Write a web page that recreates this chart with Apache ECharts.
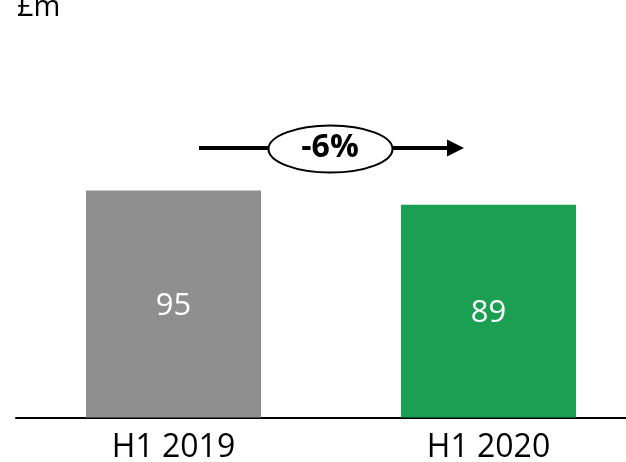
<!DOCTYPE html>
<html>
<head>
<meta charset="utf-8">
<style>
  html, body { margin: 0; padding: 0; background: #fff; }
  #chart { width: 626px; height: 462px; }
</style>
<script src="https://cdn.jsdelivr.net/npm/echarts@6/dist/echarts.min.js"></script>
</head>
<body>
<div id="chart"></div>
<script>
// Half-year revenue, £m
const categories = ['H1 2019', 'H1 2020'];
const values = [95, 89];
const barColors = ['#8F8F8F', '#1A9F53'];
const unitLabel = '£m';

// Period-on-period change shown in the callout
const changePct = Math.round((values[1] / values[0] - 1) * 100);
const changeText = (changePct > 0 ? '+' : '') + changePct + '%';

const FONT = '"Open Sans", "Noto Sans", sans-serif';

const chart = echarts.init(document.getElementById('chart'));

chart.setOption({
  animation: false,
  // the plot runs past the right edge, so the second category sits off-centre
  grid: {
    left: 16, width: 630, top: 178.5, height: 239,
    containLabel: false,
    outerBoundsMode: 'none'
  },
  xAxis: {
    type: 'category',
    data: categories,
    axisLine: { show: true, lineStyle: { color: '#000', width: 2 } },
    axisTick: { show: false },
    axisLabel: { color: '#000', fontSize: 32, fontFamily: FONT, margin: 14 }
  },
  yAxis: {
    type: 'value',
    min: 0,
    max: 100,
    show: false
  },
  series: [{
    type: 'bar',
    barWidth: 175,
    data: values.map((v, i) => ({ value: v, itemStyle: { color: barColors[i] } })),
    label: {
      show: true,
      position: 'inside',
      offset: [0, 2],
      color: '#fff',
      fontSize: 31,
      fontFamily: FONT
    }
  }],
  graphic: [
    {
      type: 'text',
      left: 17,
      top: -7,
      style: { text: unitLabel, fill: '#000', fontSize: 29, fontFamily: FONT }
    },
    // callout arrow
    {
      type: 'line',
      shape: { x1: 199, y1: 148, x2: 450, y2: 148 },
      style: { stroke: '#000', lineWidth: 4 }
    },
    {
      type: 'polygon',
      shape: { points: [[447, 139.5], [464, 148], [447, 156.5]] },
      style: { fill: '#000' }
    },
    {
      type: 'ellipse',
      shape: { cx: 330.5, cy: 149, rx: 62, ry: 23.5 },
      style: { fill: '#fff', stroke: '#000', lineWidth: 2 }
    },
    {
      type: 'text',
      x: 330,
      y: 148,
      style: {
        text: changeText,
        fill: '#000',
        fontSize: 32,
        fontWeight: 'bold',
        fontFamily: FONT,
        align: 'center',
        verticalAlign: 'middle'
      }
    }
  ]
});
</script>
</body>
</html>
